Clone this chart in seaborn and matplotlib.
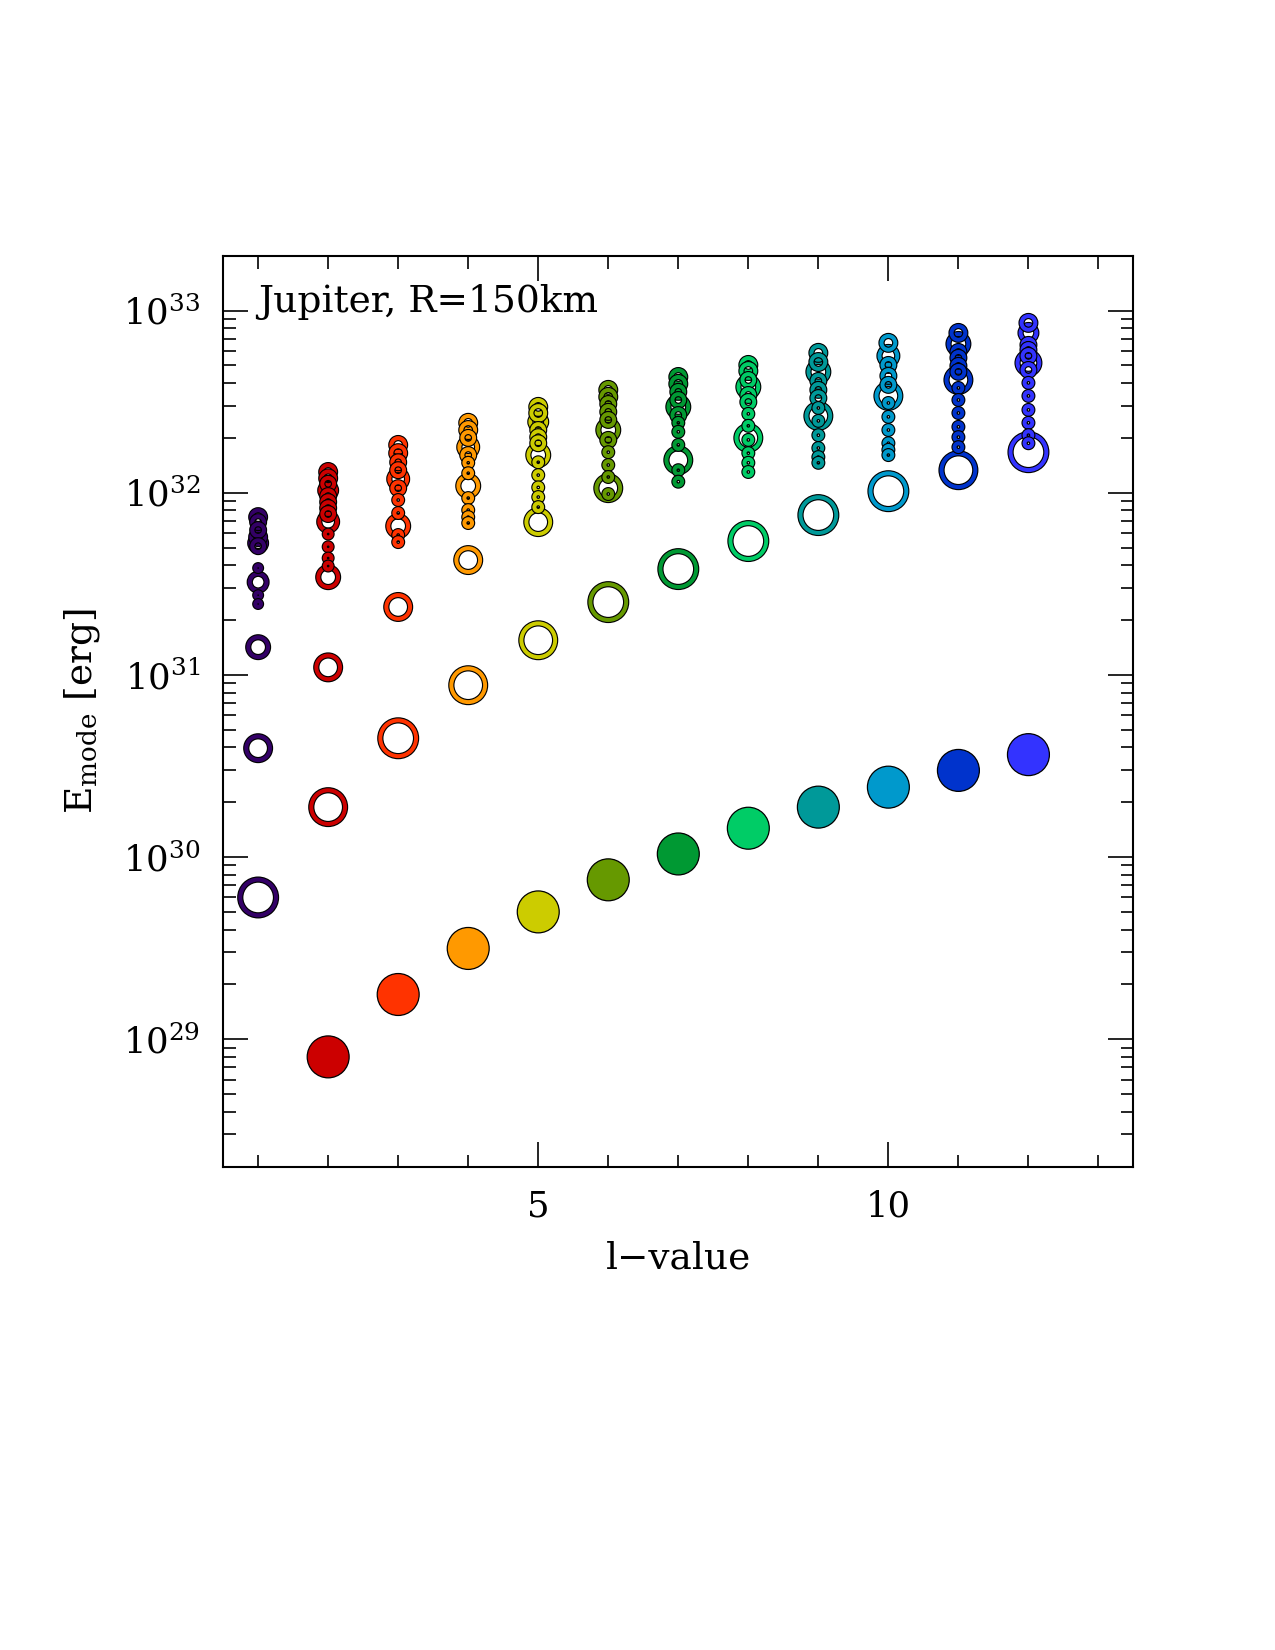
import matplotlib
matplotlib.use("Agg")
import matplotlib.pyplot as plt
import matplotlib.ticker as mticker
import numpy as np
import pandas as pd
import seaborn as sns

# l-values and colours
l_values = [1, 2, 3, 4, 5, 6, 7, 8, 9, 10, 11, 12]
colors = ["#330066", "#CC0000", "#FF3300", "#FF9900", "#CCCC00", "#669900",
          "#009933", "#00CC66", "#009999", "#0099CC", "#0033CC", "#3333FF"]

# filled series
l_filled = [2, 3, 4, 5, 6, 7, 8, 9, 10, 11, 12]
E_filled = [8.0e28, 1.76e29, 3.15e29, 5.0e29, 7.5e29, 1.04e30,
            1.44e30, 1.88e30, 2.42e30, 2.99e30, 3.65e30]

# open-ring modes for each l: energy [erg] and ring weight
E_l1 = [7.35e31, 6.90e31, 6.24e31, 5.71e31, 5.29e31, 5.09e31, 3.86e31,
        3.23e31, 2.74e31, 2.45e31, 1.42e31, 3.96e30, 6.0e29]
w_l1 = [20, 18, 18, 20, 22, 18, 12, 23, 12, 12, 26, 30, 42]

E_l2 = [1.30e32, 1.20e32, 1.12e32, 1.03e32, 9.59e31, 8.89e31, 8.24e31, 7.64e31,
        6.93e31, 5.93e31, 5.05e31, 4.38e31, 3.96e31, 3.44e31, 1.10e31, 1.88e30]
w_l2 = [20, 20, 18, 22, 18, 18, 18, 18, 24, 13, 13, 13, 13, 26, 30, 40]

E_l3 = [1.83e32, 1.65e32, 1.47e32, 1.33e32, 1.19e32, 1.06e32, 9.12e31,
        7.74e31, 6.56e31, 5.86e31, 5.36e31, 2.36e31, 4.49e30]
w_l3 = [20, 20, 18, 18, 24, 18, 14, 14, 26, 14, 14, 30, 42]

E_l4 = [2.42e32, 2.21e32, 2.00e32, 1.78e32, 1.61e32, 1.46e32, 1.28e32,
        1.09e32, 9.35e31, 8.03e31, 7.35e31, 6.82e31, 4.27e31, 8.78e30]
w_l4 = [20, 20, 18, 24, 18, 14, 14, 26, 14, 14, 14, 14, 30, 40]

E_l5 = [2.96e32, 2.74e32, 2.45e32, 2.21e32, 2.02e32, 1.87e32, 1.61e32,
        1.47e32, 1.25e32, 1.07e32, 9.47e31, 8.34e31, 6.90e31, 1.55e31]
w_l5 = [20, 20, 22, 18, 18, 18, 26, 14, 14, 14, 14, 14, 30, 40]

E_l6 = [3.67e32, 3.36e32, 3.07e32, 2.78e32, 2.51e32, 2.21e32, 1.95e32,
        1.67e32, 1.42e32, 1.22e32, 1.06e32, 9.84e31, 2.51e31]
w_l6 = [20, 20, 18, 18, 18, 26, 18, 14, 14, 14, 30, 14, 42]

E_l7 = [4.32e32, 3.96e32, 3.58e32, 3.23e32, 2.96e32, 2.67e32, 2.42e32,
        2.16e32, 1.83e32, 1.51e32, 1.33e32, 1.15e32, 3.81e31]
w_l7 = [20, 20, 18, 18, 26, 18, 14, 14, 14, 30, 14, 14, 42]

E_l8 = [5.03e32, 4.66e32, 4.16e32, 3.81e32, 3.44e32, 3.15e32, 2.71e32,
        2.33e32, 2.00e32, 1.95e32, 1.65e32, 1.46e32, 1.30e32, 5.43e31]
w_l8 = [20, 20, 18, 26, 18, 18, 14, 14, 30, 14, 14, 14, 14, 42]

E_l9 = [5.86e32, 5.22e32, 4.61e32, 4.11e32, 3.67e32, 3.31e32, 2.92e32,
        2.64e32, 2.48e32, 2.07e32, 1.76e32, 1.57e32, 1.46e32, 7.54e31]
w_l9 = [20, 20, 26, 18, 18, 18, 14, 30, 14, 14, 14, 14, 14, 42]

E_l10 = [6.65e32, 5.64e32, 5.03e32, 4.38e32, 3.91e32, 3.40e32, 3.11e32,
         2.61e32, 2.21e32, 1.87e32, 1.72e32, 1.61e32, 1.02e32]
w_l10 = [20, 24, 18, 18, 18, 30, 14, 14, 14, 14, 14, 14, 42]

E_l11 = [7.54e32, 6.56e32, 5.93e32, 5.50e32, 4.97e32, 4.61e32, 4.16e32,
         3.76e32, 3.23e32, 2.74e32, 2.30e32, 2.02e32, 1.78e32, 1.33e32]
w_l11 = [20, 26, 18, 18, 18, 18, 30, 14, 14, 14, 14, 14, 14, 40]

E_l12 = [8.56e32, 7.54e32, 6.48e32, 6.08e32, 5.64e32, 5.16e32, 4.72e32,
         4.01e32, 3.40e32, 2.85e32, 2.42e32, 2.07e32, 1.87e32, 1.67e32]
w_l12 = [20, 22, 18, 18, 18, 28, 18, 14, 14, 14, 14, 14, 14, 42]

E_modes = [E_l1, E_l2, E_l3, E_l4, E_l5, E_l6, E_l7, E_l8, E_l9, E_l10, E_l11, E_l12]
w_modes = [w_l1, w_l2, w_l3, w_l4, w_l5, w_l6, w_l7, w_l8, w_l9, w_l10, w_l11, w_l12]

sns.set_style("ticks")
plt.rcParams["font.family"] = ["DejaVu Serif"]
plt.rcParams["mathtext.fontset"] = "dejavuserif"
for key in ["text.color", "axes.labelcolor", "xtick.color", "ytick.color", "axes.edgecolor"]:
    plt.rcParams[key] = "black"

fig = plt.figure(figsize=(8.5, 11), dpi=150)
ax = fig.add_axes([0.175, 0.293, 0.714, 0.552])
ax.set_yscale("log")

# ring weight -> marker area (pt^2), black outline stroke and colour stroke
lw_black, lw_col = 3.0, 1.9
all_w = sorted(set(w for ws in w_modes for w in ws))
size_map = {w: (0.48 * w - lw_black) ** 2 for w in all_w}

for l, E, w, c in zip(l_values, E_modes, w_modes, colors):
    df = pd.DataFrame({"l": l, "E": E, "w": w})
    df = df.sort_values("w", ascending=False, kind="stable").reset_index(drop=True)
    df = df.loc[df.index.repeat(2)].reset_index(drop=True)
    sns.scatterplot(data=df, x="l", y="E", size="w", sizes=size_map,
                    legend=False, ax=ax, zorder=2)
    coll = ax.collections[-1]
    n = len(df) // 2
    coll.set_facecolor("none")
    coll.set_edgecolors(["black", c] * n)
    coll.set_linewidths([lw_black, lw_col] * n)

palette = dict(zip(l_values, colors))
sns.scatterplot(x=l_filled, y=E_filled, hue=l_filled, palette=palette,
                s=405, edgecolor="black", linewidth=0.6, legend=False,
                ax=ax, zorder=3)

ax.set_xlim(0.5, 13.5)
ax.set_ylim(2e28, 2e33)

ax.xaxis.set_major_locator(mticker.FixedLocator([5, 10]))
ax.xaxis.set_minor_locator(mticker.MultipleLocator(1))
ax.xaxis.set_major_formatter(mticker.FormatStrFormatter("%d"))
ax.yaxis.set_major_locator(mticker.LogLocator(base=10, numticks=20))
ax.yaxis.set_minor_locator(mticker.LogLocator(base=10, subs=np.arange(2, 10), numticks=20))
ax.yaxis.set_major_formatter(mticker.FuncFormatter(lambda v, p: r"$10^{%d}$" % round(np.log10(v))))
ax.yaxis.set_minor_formatter(mticker.NullFormatter())

ax.tick_params(which="both", direction="in", top=True, right=True, width=0.8,
               labelsize=17, colors="black")
ax.tick_params(which="major", length=12, pad=11)
ax.tick_params(which="minor", length=6)
for sp in ax.spines.values():
    sp.set_linewidth(1.0)
    sp.set_color("black")
    sp.set_visible(True)

ax.set_xlabel("l\u2212value", fontsize=18, labelpad=8)
ax.set_ylabel(r"E$_{\mathrm{mode}}$ [erg]", fontsize=18, labelpad=10)
ax.text(0.038, 0.9385, "Jupiter, R=150km", transform=ax.transAxes,
        fontsize=18, va="baseline", ha="left")

fig.savefig("out.png", dpi=150)
